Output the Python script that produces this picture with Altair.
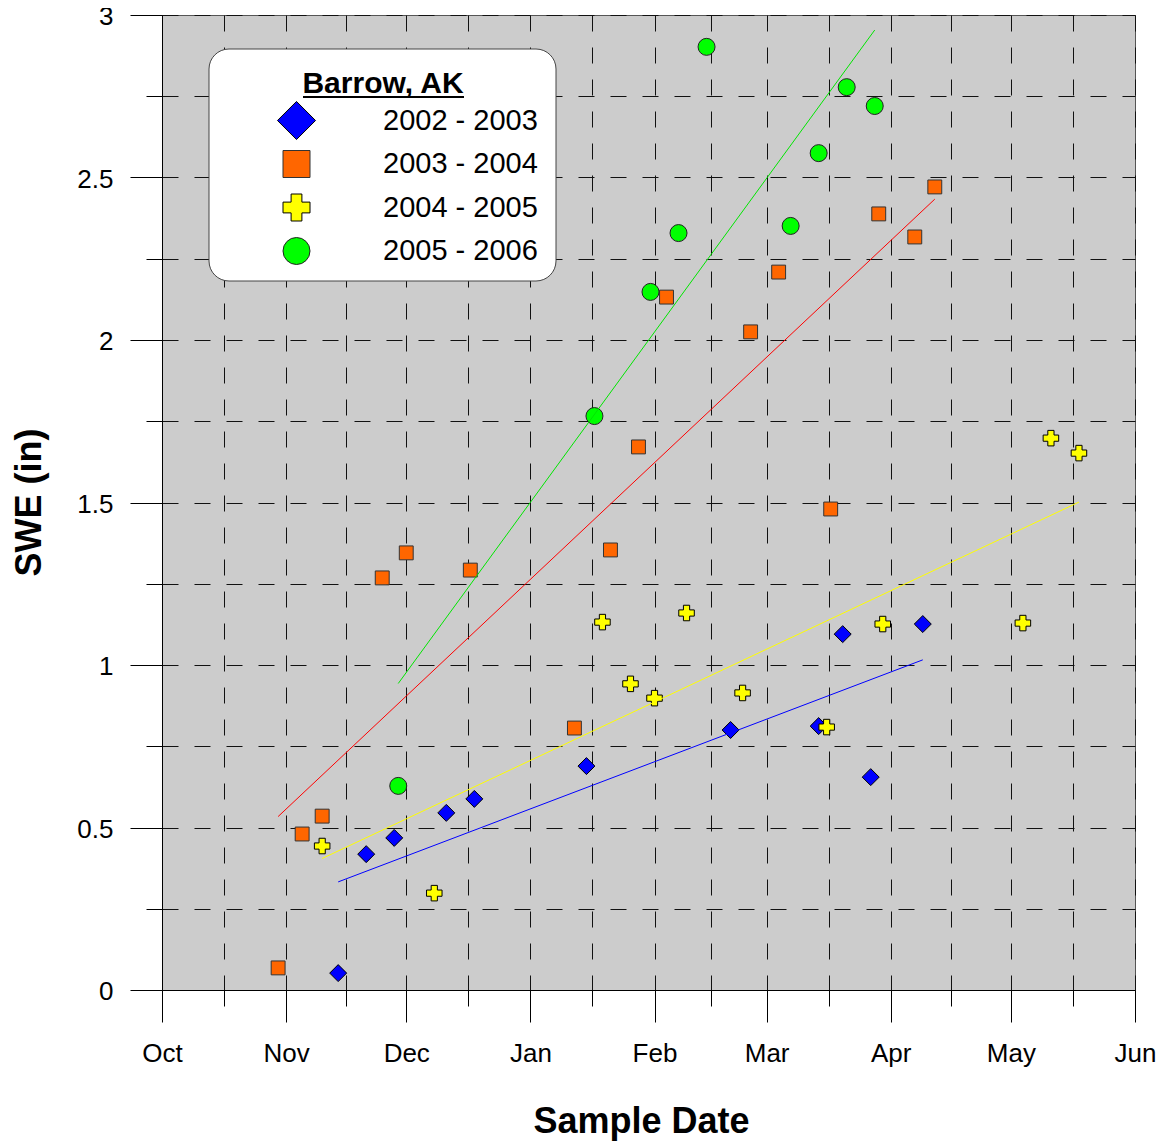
import json
import altair as alt
import pandas as pd

FONT = "Liberation Sans"

seasons = ["2002 - 2003", "2003 - 2004", "2004 - 2005", "2005 - 2006"]
markers = ["diamond", "square", "cross", "circle"]
trends = ["fit 2002 - 2003", "fit 2003 - 2004", "fit 2004 - 2005", "fit 2005 - 2006"]

# sample dates (month-day) and SWE (in)
dates_2002_2003 = ["11-14", "11-21", "11-28", "12-11", "12-18", "01-15",
                   "02-20", "03-14", "03-20", "03-27", "04-09"]
swe_2002_2003 = [0.052, 0.418, 0.468, 0.545, 0.588, 0.689,
                 0.800, 0.812, 1.095, 0.655, 1.126]

dates_2003_2004 = ["10-30", "11-05", "11-10", "11-25", "12-01", "12-17",
                   "01-12", "01-21", "01-28", "02-04", "02-25", "03-04",
                   "03-17", "03-29", "04-07", "04-12"]
swe_2003_2004 = [0.068, 0.480, 0.535, 1.268, 1.345, 1.292,
                 0.806, 1.354, 1.671, 2.132, 2.025, 2.209,
                 1.480, 2.388, 2.317, 2.471]

dates_2004_2005 = ["11-10", "12-08", "01-19", "01-26", "02-01", "02-09",
                   "02-23", "03-16", "03-30", "05-04", "05-11", "05-18"]
swe_2004_2005 = [0.443, 0.298, 1.132, 0.942, 0.898, 1.160,
                 0.914, 0.809, 1.126, 1.129, 1.698, 1.652]

dates_2005_2006 = ["11-29", "01-17", "01-31", "02-07", "02-14", "03-07",
                   "03-14", "03-21", "03-28"]
swe_2005_2006 = [0.628, 1.766, 2.148, 2.329, 2.902, 2.351,
                 2.575, 2.778, 2.720]

fill_colors = ["#0000ff", "#ff6600", "#ffff00", "#00ff00"]
edge_colors = ["#000000", "#333333", "#000000", "#222222"]
line_colors = ["#0000ff", "#ff0000", "#ffff00", "#00e600"]
diamond = "M0,-1.41L1.41,0L0,1.41L-1.41,0Z"
shapes = [diamond, "square", "cross", "circle"]
point_sizes = [145, 289, 289, 272]

month_names = ["Oct", "Nov", "Dec", "Jan", "Feb", "Mar", "Apr", "May", "Jun"]
month_days = [0, 31, 61, 92, 123, 151, 182, 212, 243]

y_values = [0, 0.25, 0.5, 0.75, 1, 1.25, 1.5, 1.75, 2, 2.25, 2.5, 2.75, 3]


def season_day(md):
    m, d = map(int, md.split("-"))
    year = 2002 if m >= 10 else 2003
    return (pd.Timestamp(year=year, month=m, day=d) - pd.Timestamp("2002-10-01")).days


rows = []
for i, (dates, swe) in enumerate([(dates_2002_2003, swe_2002_2003),
                                  (dates_2003_2004, swe_2003_2004),
                                  (dates_2004_2005, swe_2004_2005),
                                  (dates_2005_2006, swe_2005_2006)]):
    for md, v in zip(dates, swe):
        rows.append({"season": seasons[i], "marker": markers[i], "trend": trends[i],
                     "day": season_day(md), "swe": v})
df = pd.DataFrame(rows)

minor_days = [(a + b) / 2 for a, b in zip(month_days[:-1], month_days[1:])]
x_values = sorted(month_days + minor_days)
major_js = json.dumps(month_days)
names_js = json.dumps(month_names)

GRID = dict(grid=True, gridDash=[16, 16], gridColor="#111111", gridWidth=1,
            tickColor="black", tickWidth=1, domainColor="black", domainWidth=1,
            labelFont=FONT, labelFontSize=26, labelColor="black",
            titleFont=FONT, titleFontSize=36, titleFontWeight="bold",
            titleColor="black", labelOverlap=False)

x_axis = alt.Axis(
    values=x_values, title="Sample Date",
    labelExpr=f"indexof({major_js}, datum.value) >= 0 ? {names_js}[indexof({major_js}, datum.value)] : ''",
    tickSize={"condition": {"test": f"indexof({major_js}, datum.value) >= 0", "value": 32}, "value": 16},
    labelPadding=18, labelFlush=False,
    titleX=479, titleY=142, titleAlign="center", titleBaseline="alphabetic",
    **GRID)

y_axis = alt.Axis(
    values=y_values, title="SWE (in)",
    labelExpr="datum.value % 0.5 == 0 ? toString(datum.value) : ''",
    tickSize={"condition": {"test": "datum.value % 0.5 == 0", "value": 32}, "value": 16},
    labelPadding=17, labelOffset=1.5,
    titleX=-122, titleY=487, titleAngle=270, titleAlign="center", titleBaseline="alphabetic",
    **GRID)

legend = alt.Legend(
    title="Barrow, AK", orient="none", legendX=47, legendY=34,
    titleFont=FONT, titleFontSize=30, titleFontWeight="bold", titleColor="black",
    titleAnchor="middle", titlePadding=7,
    labelFont=FONT, labelFontSize=29, labelColor="black",
    symbolSize=729, symbolStrokeWidth=1, symbolOpacity=1,
    symbolOffset=53, labelOffset=72, rowPadding=6.5, gridAlign="all",
    padding=20,
)

x_enc = alt.X("day:Q", scale=alt.Scale(domain=[0, 243], nice=False, zero=False), axis=x_axis)
y_enc = alt.Y("swe:Q", scale=alt.Scale(domain=[0, 3], nice=False), axis=y_axis)

base = alt.Chart(df)

# white rounded legend panel and the title underline (decorations in pixel space)
panel = alt.Chart(pd.DataFrame({"k": [0]})).mark_rect(
    fill="white", stroke="#444444", strokeWidth=1, cornerRadius=20).encode(
    x=alt.value(47), x2=alt.value(394), y=alt.value(34), y2=alt.value(266))

underline = alt.Chart(pd.DataFrame({"k": [0]})).mark_rule(color="black", strokeWidth=2).encode(
    x=alt.value(141), x2=alt.value(302), y=alt.value(82))

points = base.mark_point(filled=True, opacity=1, strokeWidth=1).encode(
    x=x_enc, y=y_enc,
    fill=alt.Fill("season:N", scale=alt.Scale(domain=seasons, range=fill_colors), legend=legend),
    shape=alt.Shape("season:N", scale=alt.Scale(domain=seasons, range=shapes), legend=legend),
    stroke=alt.Stroke("season:N", scale=alt.Scale(domain=seasons, range=edge_colors), legend=legend),
    size=alt.Size("marker:N", scale=alt.Scale(domain=markers, range=point_sizes), legend=None),
)

lines = base.transform_regression("day", "swe", groupby=["season", "trend"]).mark_line(strokeWidth=1).encode(
    x=x_enc, y=y_enc,
    color=alt.Color("trend:N", scale=alt.Scale(domain=trends, range=line_colors), legend=None),
)

chart = alt.layer(panel, underline, points, lines).properties(
    width=973, height=975,
    background="white",
    autosize=alt.AutoSizeParams(type="none"),
    padding={"left": 154, "top": 7, "right": 21, "bottom": 154},
).configure_view(fill="#cccccc", stroke="#555555", strokeWidth=1)

chart.save("out.html", embed_options={"renderer": "svg", "actions": False})
